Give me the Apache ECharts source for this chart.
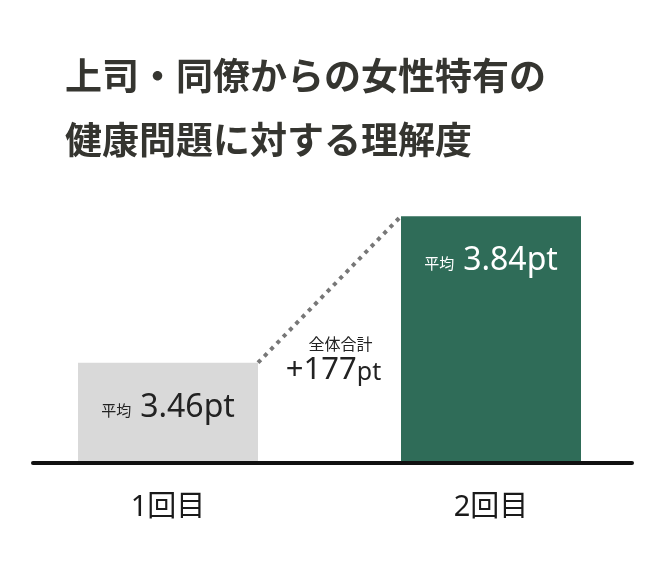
<!DOCTYPE html>
<html lang="ja">
<head>
  <meta charset="UTF-8">
  <title>上司・同僚からの女性特有の健康問題に対する理解度</title>
  <script src="https://cdn.jsdelivr.net/npm/echarts@6/dist/echarts.min.js"></script>
  <style>
    body { margin: 0; padding: 0; background: #fff; }
  </style>
</head>
<body>
  <div id="chart" style="width: 670px; height: 570px;"></div>
  <script>
    // データ
    var titleLines = ['上司・同僚からの女性特有の', '健康問題に対する理解度'];
    var categories = ['1回目', '2回目'];
    var averages = [3.46, 3.84];
    var avgPrefix = '平均';
    var totalLabel = '全体合計';
    var totalDiff = '+177';
    var unit = 'pt';

    var BAR_W = 180;
    var FONT = '"Noto Sans CJK JP", "Noto Sans", sans-serif';
    var NUM_FONT = '"Noto Sans", "Noto Sans CJK JP", sans-serif';

    var myChart = echarts.init(document.getElementById('chart'));

    var option = {
      animation: false,
      title: {
        text: titleLines.join('\n'),
        left: 60,
        top: 39,
        textStyle: {
          fontFamily: FONT,
          fontSize: 37,
          fontWeight: 'bold',
          lineHeight: 64,
          color: '#353530'
        }
      },
      grid: [
        { left: 6.5, right: 17.5, top: 193, bottom: 107 },
        { left: 33, right: 38, top: 193, bottom: 107 }
      ],
      xAxis: [
        {
          type: 'category',
          gridIndex: 0,
          data: categories,
          axisLine: { show: false },
          axisTick: { show: false },
          axisLabel: {
            margin: 30,
            fontFamily: NUM_FONT,
            fontSize: 29,
            color: '#1a1a1a'
          }
        },
        {
          // 基準線のみ
          type: 'category',
          gridIndex: 1,
          data: categories,
          z: 10,
          axisLine: { show: true, lineStyle: { color: '#111', width: 4 } },
          axisTick: { show: false },
          axisLabel: { show: false }
        }
      ],
      yAxis: [
        { type: 'value', gridIndex: 0, min: 3.2, max: 3.9, show: false },
        { type: 'value', gridIndex: 1, min: 3.2, max: 3.9, show: false }
      ],
      series: [
        {
          type: 'bar',
          xAxisIndex: 0,
          yAxisIndex: 0,
          barWidth: BAR_W,
          data: averages.map(function (v, i) {
            var last = i === averages.length - 1;
            return {
              value: v,
              itemStyle: { color: last ? '#2f6c58' : '#d9d9d9' },
              label: {
                position: last ? 'insideTop' : 'inside',
                distance: 29,
                offset: last ? [0, 0] : [0, -5],
                color: last ? '#fff' : '#222'
              }
            };
          }),
          label: {
            show: true,
            formatter: function (p) {
              return '{s|' + avgPrefix + '}{b|' + p.value.toFixed(2) + unit + '}';
            },
            rich: {
              s: { fontFamily: FONT, fontSize: 15, padding: [4, 9, 0, 0] },
              b: { fontFamily: NUM_FONT, fontSize: 32 }
            }
          }
        },
        {
          type: 'custom',
          xAxisIndex: 0,
          yAxisIndex: 0,
          z: 5,
          data: [[averages[0], averages[1]]],
          renderItem: function (params, api) {
            var p1 = api.coord([0, api.value(0)]);
            var p2 = api.coord([1, api.value(1)]);
            var x1 = p1[0] + BAR_W / 2, y1 = p1[1];
            var x2 = p2[0] - BAR_W / 2, y2 = p2[1];
            var mx = (x1 + x2) / 2, my = (y1 + y2) / 2;
            return {
              type: 'group',
              children: [
                {
                  type: 'line',
                  shape: { x1: x1, y1: y1, x2: x2, y2: y2 },
                  style: { stroke: '#777', lineWidth: 4, lineDash: [4, 5] }
                },
                {
                  type: 'text',
                  style: {
                    x: mx + 11, y: my + 54,
                    text: totalLabel,
                    fontFamily: FONT, fontSize: 16, fill: '#222',
                    align: 'center', verticalAlign: 'middle'
                  }
                },
                {
                  type: 'text',
                  style: {
                    x: mx + 4, y: my + 81,
                    text: '{n|' + totalDiff + '}{u|' + unit + '}',
                    align: 'center', verticalAlign: 'middle',
                    rich: {
                      n: { fontFamily: NUM_FONT, fontSize: 31, fill: '#222' },
                      u: { fontFamily: NUM_FONT, fontSize: 25, fill: '#222', padding: [4, 0, 0, 0] }
                    }
                  }
                }
              ]
            };
          }
        }
      ]
    };

    myChart.setOption(option);
  </script>
</body>
</html>
